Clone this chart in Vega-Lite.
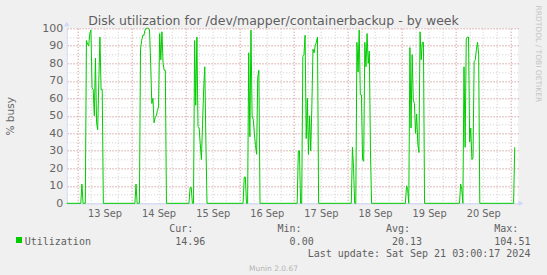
{
"$schema": "https://vega.github.io/schema/vega-lite/v6.json",
"width": 451.6,
"height": 175,
"autosize": "none",
"padding": {"left": 66.7, "top": 28.3, "right": 28.7, "bottom": 71.7},
"background": "#f0f0f0",
"view": {"fill": "#ffffff", "stroke": null},
"title": {"text": "Disk utilization for /dev/mapper/containerbackup - by week", "font": "DejaVu Sans", "fontSize": 12.5, "fontWeight": "normal", "color": "#5e5e5e", "anchor": "middle", "dx": -19, "offset": -22.5},
"layer": [
{
"data": {"values": [
{"t":"2024-09-12T19:15Z","v":0},
{"t":"2024-09-13T01:30Z","v":0},{"t":"2024-09-13T02:00Z","v":11},{"t":"2024-09-13T02:30Z","v":0},{"t":"2024-09-13T03:30Z","v":0},{"t":"2024-09-13T04:00Z","v":93},{"t":"2024-09-13T04:30Z","v":91},{"t":"2024-09-13T05:00Z","v":90},{"t":"2024-09-13T05:30Z","v":97},{"t":"2024-09-13T06:00Z","v":99},{"t":"2024-09-13T06:30Z","v":66},{"t":"2024-09-13T07:00Z","v":65},{"t":"2024-09-13T07:30Z","v":50},{"t":"2024-09-13T08:00Z","v":83},{"t":"2024-09-13T08:30Z","v":46},{"t":"2024-09-13T09:00Z","v":42},{"t":"2024-09-13T09:30Z","v":70},{"t":"2024-09-13T10:00Z","v":95},{"t":"2024-09-13T10:30Z","v":65},{"t":"2024-09-13T11:00Z","v":65},{"t":"2024-09-13T11:30Z","v":0},
{"t":"2024-09-14T01:30Z","v":0},{"t":"2024-09-14T02:00Z","v":11},{"t":"2024-09-14T02:30Z","v":0},{"t":"2024-09-14T03:30Z","v":0},{"t":"2024-09-14T04:00Z","v":88},{"t":"2024-09-14T04:30Z","v":93},{"t":"2024-09-14T05:00Z","v":96},{"t":"2024-09-14T05:30Z","v":96},{"t":"2024-09-14T06:00Z","v":99},{"t":"2024-09-14T06:30Z","v":100},{"t":"2024-09-14T07:00Z","v":100},{"t":"2024-09-14T07:30Z","v":100},{"t":"2024-09-14T08:00Z","v":99},{"t":"2024-09-14T08:30Z","v":80},{"t":"2024-09-14T09:00Z","v":57},{"t":"2024-09-14T09:30Z","v":60},{"t":"2024-09-14T10:00Z","v":46},{"t":"2024-09-14T10:30Z","v":49},{"t":"2024-09-14T11:00Z","v":50},{"t":"2024-09-14T11:30Z","v":53},{"t":"2024-09-14T12:00Z","v":55},{"t":"2024-09-14T12:30Z","v":97},{"t":"2024-09-14T13:00Z","v":82},{"t":"2024-09-14T13:30Z","v":98},{"t":"2024-09-14T14:00Z","v":80},{"t":"2024-09-14T14:30Z","v":76},{"t":"2024-09-14T15:00Z","v":76},{"t":"2024-09-14T15:30Z","v":0},
{"t":"2024-09-15T01:30Z","v":0},{"t":"2024-09-15T02:00Z","v":9},{"t":"2024-09-15T02:30Z","v":9},{"t":"2024-09-15T03:00Z","v":0},{"t":"2024-09-15T03:30Z","v":0},{"t":"2024-09-15T04:00Z","v":93},{"t":"2024-09-15T04:30Z","v":56},{"t":"2024-09-15T05:00Z","v":95},{"t":"2024-09-15T05:30Z","v":44},{"t":"2024-09-15T06:00Z","v":43},{"t":"2024-09-15T06:30Z","v":34},{"t":"2024-09-15T07:00Z","v":25},{"t":"2024-09-15T07:30Z","v":45},{"t":"2024-09-15T08:00Z","v":65},{"t":"2024-09-15T08:30Z","v":78},{"t":"2024-09-15T09:00Z","v":35},{"t":"2024-09-15T09:30Z","v":0},
{"t":"2024-09-16T01:30Z","v":0},{"t":"2024-09-16T02:00Z","v":15},{"t":"2024-09-16T02:30Z","v":15},{"t":"2024-09-16T03:00Z","v":0},{"t":"2024-09-16T03:30Z","v":0},{"t":"2024-09-16T04:00Z","v":86},{"t":"2024-09-16T04:30Z","v":38},{"t":"2024-09-16T05:00Z","v":99},{"t":"2024-09-16T05:30Z","v":50},{"t":"2024-09-16T06:00Z","v":48},{"t":"2024-09-16T06:30Z","v":40},{"t":"2024-09-16T07:00Z","v":33},{"t":"2024-09-16T07:30Z","v":28},{"t":"2024-09-16T08:00Z","v":72},{"t":"2024-09-16T08:30Z","v":76},{"t":"2024-09-16T09:00Z","v":0},
{"t":"2024-09-17T01:30Z","v":0},{"t":"2024-09-17T02:00Z","v":30},{"t":"2024-09-17T02:30Z","v":30},{"t":"2024-09-17T03:00Z","v":0},{"t":"2024-09-17T03:30Z","v":0},{"t":"2024-09-17T04:00Z","v":84},{"t":"2024-09-17T04:30Z","v":85},{"t":"2024-09-17T05:00Z","v":96},{"t":"2024-09-17T05:30Z","v":37},{"t":"2024-09-17T06:00Z","v":60},{"t":"2024-09-17T06:30Z","v":28},{"t":"2024-09-17T07:00Z","v":50},{"t":"2024-09-17T07:30Z","v":30},{"t":"2024-09-17T08:00Z","v":55},{"t":"2024-09-17T08:30Z","v":88},{"t":"2024-09-17T09:00Z","v":86},{"t":"2024-09-17T09:30Z","v":90},{"t":"2024-09-17T10:00Z","v":92},{"t":"2024-09-17T10:30Z","v":95},{"t":"2024-09-17T11:00Z","v":0},
{"t":"2024-09-18T01:30Z","v":0},{"t":"2024-09-18T02:00Z","v":32},{"t":"2024-09-18T02:30Z","v":20},{"t":"2024-09-18T03:00Z","v":0},{"t":"2024-09-18T03:30Z","v":0},{"t":"2024-09-18T04:00Z","v":92},{"t":"2024-09-18T04:30Z","v":75},{"t":"2024-09-18T05:00Z","v":99},{"t":"2024-09-18T05:30Z","v":62},{"t":"2024-09-18T06:00Z","v":62},{"t":"2024-09-18T06:30Z","v":25},{"t":"2024-09-18T07:00Z","v":24},{"t":"2024-09-18T07:30Z","v":92},{"t":"2024-09-18T08:00Z","v":78},{"t":"2024-09-18T08:30Z","v":97},{"t":"2024-09-18T09:00Z","v":80},{"t":"2024-09-18T09:30Z","v":87},{"t":"2024-09-18T10:00Z","v":30},{"t":"2024-09-18T10:30Z","v":0},
{"t":"2024-09-19T01:30Z","v":0},{"t":"2024-09-19T02:00Z","v":10},{"t":"2024-09-19T02:30Z","v":8},{"t":"2024-09-19T03:00Z","v":0},{"t":"2024-09-19T03:30Z","v":89},{"t":"2024-09-19T04:00Z","v":43},{"t":"2024-09-19T04:30Z","v":85},{"t":"2024-09-19T05:00Z","v":59},{"t":"2024-09-19T05:30Z","v":57},{"t":"2024-09-19T06:00Z","v":40},{"t":"2024-09-19T06:30Z","v":51},{"t":"2024-09-19T07:00Z","v":34},{"t":"2024-09-19T07:30Z","v":29},{"t":"2024-09-19T08:00Z","v":98},{"t":"2024-09-19T08:30Z","v":82},{"t":"2024-09-19T09:00Z","v":92},{"t":"2024-09-19T09:30Z","v":92},{"t":"2024-09-19T10:00Z","v":0},
{"t":"2024-09-20T01:30Z","v":0},{"t":"2024-09-20T02:00Z","v":11},{"t":"2024-09-20T02:30Z","v":8},{"t":"2024-09-20T03:00Z","v":0},{"t":"2024-09-20T03:30Z","v":78},{"t":"2024-09-20T04:00Z","v":32},{"t":"2024-09-20T04:30Z","v":94},{"t":"2024-09-20T05:00Z","v":95},{"t":"2024-09-20T05:30Z","v":95},{"t":"2024-09-20T06:00Z","v":35},{"t":"2024-09-20T06:30Z","v":43},{"t":"2024-09-20T07:00Z","v":25},{"t":"2024-09-20T07:30Z","v":26},{"t":"2024-09-20T08:00Z","v":81},{"t":"2024-09-20T08:30Z","v":82},{"t":"2024-09-20T09:00Z","v":88},{"t":"2024-09-20T09:30Z","v":92},{"t":"2024-09-20T10:00Z","v":85},{"t":"2024-09-20T10:30Z","v":0},
{"t":"2024-09-21T01:30Z","v":0},{"t":"2024-09-21T02:00Z","v":32}
]},
"mark": {"type": "line", "strokeWidth": 1},
"encoding": {
"x": {"field": "t", "type": "temporal",
 "scale": {"type": "utc", "domain": [1726168500000, 1726889700000]},
 "axis": {
  "orient": "bottom",
  "values": [1726185600000,1726207200000,1726228800000,1726250400000,1726272000000,1726293600000,1726315200000,1726336800000,1726358400000,1726380000000,1726401600000,1726423200000,1726444800000,1726466400000,1726488000000,1726509600000,1726531200000,1726552800000,1726574400000,1726596000000,1726617600000,1726639200000,1726660800000,1726682400000,1726704000000,1726725600000,1726747200000,1726768800000,1726790400000,1726812000000,1726833600000,1726855200000,1726876800000],
  "grid": true,
  "gridColor": "#cccccc",
  "gridDash": [1, 2],
  "ticks": false,
  "labelExpr": "utchours(datum.value) == 12 ? utcFormat(datum.value, '%d %b') : ''",
  "labelOverlap": false,
  "labelFlush": false,
  "labelPadding": 5,
  "labelFont": "DejaVu Sans",
  "labelFontSize": 9.8,
  "labelColor": "#666666",
  "domainColor": "#cfd6f8",
  "title": [
   "\u200b\u00a0\u00a0\u00a0\u00a0\u00a0\u00a0\u00a0\u00a0\u00a0\u00a0\u00a0\u00a0\u00a0\u00a0\u00a0\u00a0\u00a0\u00a0\u00a0\u00a0\u00a0\u00a0\u00a0\u00a0Cur:\u00a0\u00a0\u00a0\u00a0\u00a0\u00a0\u00a0\u00a0\u00a0\u00a0\u00a0\u00a0\u00a0\u00a0Min:\u00a0\u00a0\u00a0\u00a0\u00a0\u00a0\u00a0\u00a0\u00a0\u00a0\u00a0\u00a0\u00a0\u00a0Avg:\u00a0\u00a0\u00a0\u00a0\u00a0\u00a0\u00a0\u00a0\u00a0\u00a0\u00a0\u00a0\u00a0\u00a0Max:",
   "Utilization\u00a0\u00a0\u00a0\u00a0\u00a0\u00a0\u00a0\u00a0\u00a0\u00a0\u00a0\u00a0\u00a0\u00a014.96\u00a0\u00a0\u00a0\u00a0\u00a0\u00a0\u00a0\u00a0\u00a0\u00a0\u00a0\u00a0\u00a0\u00a00.00\u00a0\u00a0\u00a0\u00a0\u00a0\u00a0\u00a0\u00a0\u00a0\u00a0\u00a0\u00a0\u00a020.13\u00a0\u00a0\u00a0\u00a0\u00a0\u00a0\u00a0\u00a0\u00a0\u00a0\u00a0\u00a0104.51",
   "\u200b\u00a0\u00a0\u00a0\u00a0\u00a0\u00a0\u00a0\u00a0\u00a0\u00a0\u00a0\u00a0\u00a0\u00a0\u00a0\u00a0\u00a0\u00a0\u00a0\u00a0\u00a0\u00a0\u00a0\u00a0\u00a0\u00a0\u00a0\u00a0\u00a0\u00a0\u00a0\u00a0\u00a0\u00a0\u00a0\u00a0\u00a0\u00a0\u00a0\u00a0\u00a0\u00a0\u00a0\u00a0\u00a0\u00a0\u00a0Last update: Sat Sep 21 03:00:17 2024"
  ],
  "titleFont": "DejaVu Sans Mono",
  "titleFontSize": 10,
  "titleFontWeight": "normal",
  "titleColor": "#606060",
  "titleAlign": "left",
  "titleAnchor": "start",
  "titleBaseline": "alphabetic",
  "titleX": -42.5,
  "titleY": 28.2,
  "titleLineHeight": 12.7
 }},
"y": {"field": "v", "type": "quantitative",
 "scale": {"domain": [0, 100], "nice": false},
 "axis": {
  "orient": "left",
  "values": [0,5,10,15,20,25,30,35,40,45,50,55,60,65,70,75,80,85,90,95,100],
  "grid": true,
  "gridColor": "#cccccc",
  "gridDash": [1, 2],
  "ticks": false,
  "labelExpr": "datum.value % 10 == 0 ? datum.label : ''",
  "labelOverlap": false,
  "labelFlush": false,
  "labelPadding": 4,
  "labelFont": "DejaVu Sans",
  "labelFontSize": 11,
  "labelColor": "#666666",
  "domainColor": "#cfd6f8",
  "title": "% busy",
  "titleFont": "DejaVu Sans",
  "titleFontSize": 10.5,
  "titleFontWeight": "normal",
  "titleColor": "#666666",
  "titleAlign": "center",
  "titleBaseline": "middle",
  "titleX": -56,
  "titleY": 87.5
 }},
"color": {"datum": "Utilization", "type": "nominal", "scale": {"range": ["#00cc00"]},
 "legend": {"orient": "none", "legendX": -52.7, "legendY": 206.7, "title": null, "symbolType": "square", "symbolSize": 36, "symbolStrokeWidth": 0, "symbolFillColor": "#00cc00", "labelExpr": "''", "padding": 0, "labelFontSize": 10,
  "encode": {"symbols": {"update": {"fill": {"value": "#00cc00"}, "stroke": {"value": "transparent"}}}}}}
}
},
{
"data": {"values": [{"t":"2024-09-12T19:15Z","v":102.5,"dir":"up"},{"t":"2024-09-21T04:45Z","v":0,"dir":"right"}]},
"mark": {"type": "point", "filled": true, "size": 28, "color": "#cfd6f8", "opacity": 1},
"encoding": {
"x": {"field": "t", "type": "temporal",
 "scale": {"type": "utc", "domain": [1726168500000, 1726889700000]},
 "axis": {"orient": "top", "values": [1726185600000,1726272000000,1726358400000,1726444800000,1726531200000,1726617600000,1726704000000,1726790400000,1726876800000], "labels": false, "ticks": false, "domain": false, "grid": true, "gridColor": "#e8a0a0", "gridDash": [1, 2], "title": "Munin 2.0.67", "titleFont": "DejaVu Sans", "titleFontSize": 7.5, "titleFontWeight": "normal", "titleColor": "#b4b4b4", "titleAlign": "center", "titleBaseline": "alphabetic", "titleX": 206.3, "titleY": 241.7}},
"y": {"field": "v", "type": "quantitative", "scale": {"domain": [0, 100], "nice": false},
 "axis": {"orient": "right", "values": [10,20,30,40,50,60,70,80,90,100], "labels": false, "ticks": false, "domain": false, "grid": true, "gridColor": "#e8a0a0", "gridDash": [1, 2], "title": "RRDTOOL / TOBI OETIKER", "titleFont": "DejaVu Sans", "titleFontSize": 7.5, "titleFontWeight": "normal", "titleColor": "#c4c4c4", "titleAngle": 90, "titleAlign": "center", "titleBaseline": "middle", "titleX": 19.2, "titleY": 25}},
"shape": {"field": "dir", "type": "nominal", "scale": {"domain": ["up", "right"], "range": ["triangle-up", "triangle-right"]}, "legend": null}
}
}
],
"resolve": {"axis": {"x": "independent", "y": "independent"}}
}
